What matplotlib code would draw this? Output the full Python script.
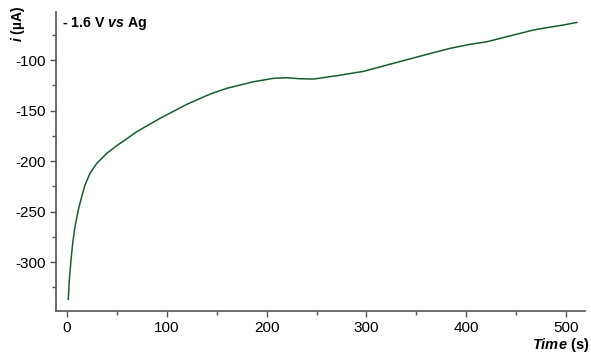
import numpy as np
import matplotlib
matplotlib.use("Agg")
import matplotlib.pyplot as plt
from matplotlib.ticker import MultipleLocator

# Chronoamperometry trace
time_s = [1.3, 2.3, 4, 5.7, 8, 11.3, 14.7, 18, 23, 29.8, 39.8, 49.8, 58.1,
          69.8, 93.2, 119.9, 143.3, 160, 186.7, 206.7, 220, 233.5, 246.8,
          270.2, 296.9, 330.4, 360.4, 383.8, 403.8, 420.5, 444, 467, 483,
          497.3, 510.7]
current_uA = [-337, -317.8, -298, -281.5, -265, -248.5, -235.3, -223.8, -212.2,
              -202.3, -192.4, -184.8, -179.2, -171, -157.7, -143.9, -133.7,
              -128, -121.5, -118.1, -117.5, -118.5, -118.8, -115.5, -111.2,
              -102.3, -94.4, -88.4, -84.4, -81.9, -76, -70.3, -67.5, -65.3,
              -62.7]

plt.rcParams['font.family'] = 'Liberation Sans'
plt.rcParams['mathtext.fontset'] = 'custom'
plt.rcParams['mathtext.it'] = 'Liberation Sans:italic:bold'
plt.rcParams['mathtext.rm'] = 'Liberation Sans:bold'

fig = plt.figure(figsize=(5.91, 3.56), dpi=100)
ax = fig.add_axes([0.0948, 0.1264, 0.8952, 0.8396])

ax.plot(time_s, current_uA, color='#1a5c2e', lw=1.1)

ax.set_xlim(-11, 519)
ax.set_ylim(-348.5, -52.5)
ax.xaxis.set_major_locator(MultipleLocator(100))
ax.xaxis.set_minor_locator(MultipleLocator(50))
ax.yaxis.set_major_locator(MultipleLocator(50))
ax.yaxis.set_minor_locator(MultipleLocator(25))

for s in ['top', 'right']:
    ax.spines[s].set_visible(False)
for s in ['left', 'bottom']:
    ax.spines[s].set_color('#555555')
    ax.spines[s].set_linewidth(1.2)
ax.tick_params(which='major', direction='out', length=4, width=1, color='#555555',
               labelsize=11, pad=3)
ax.tick_params(which='minor', direction='out', length=3, width=1, color='#555555')
ax.set_yticks([-100, -150, -200, -250, -300])
ax.set_yticklabels(['-100', '-150', '-200', '-250', '-300'])

fig.text(0.031, 0.933, r'$i$ (µA)', rotation=90, fontsize=10, fontweight='bold',
         ha='center', va='center')
fig.text(0.997, 0.031, r'$Time$ (s)', fontsize=10.5, fontweight='bold',
         ha='right', va='center')
ax.text(0.012, 0.962, r'- 1.6 V $vs$ Ag', transform=ax.transAxes, fontsize=10.2,
        fontweight='bold', ha='left', va='center')

fig.savefig('out.png', dpi=100)
